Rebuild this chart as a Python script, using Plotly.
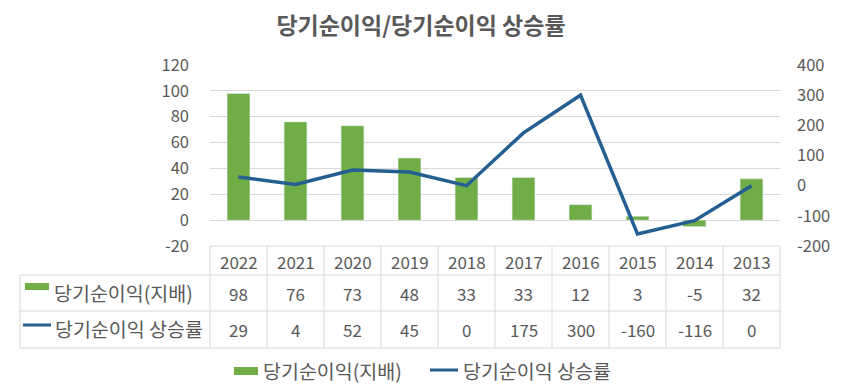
import plotly.graph_objects as go

years = ["2022", "2021", "2020", "2019", "2018", "2017", "2016", "2015", "2014", "2013"]
net_income = [98, 76, 73, 48, 33, 33, 12, 3, -5, 32]
growth_rate = [29, 4, 52, 45, 0, 175, 300, -160, -116, 0]
left_ticks = [-20, 0, 20, 40, 60, 80, 100, 120]
right_ticks = [-200, -100, 0, 100, 200, 300, 400]
name_bar = "당기순이익(지배)"
name_line = "당기순이익 상승률"
title_text = "당기순이익/당기순이익 상승률"

# page body has an 8px default margin; figure sized to fit the 841x390 window
OFF = 8
W, H = 841 - OFF, 390 - OFF
def X(px): return (px - OFF) / W
def Y(py): return 1 - (py - OFF) / H

FONT = "Noto Sans CJK KR"
GREY = "#595959"
GRID = "#d9d9d9"
GREEN = "#70ad47"
BLUE = "#255e91"

PL, PR, PT, PB = 210, 780, 65, 246

fig = go.Figure()
fig.add_trace(go.Bar(x=years, y=net_income, name=name_bar, marker_color=GREEN,
                     yaxis="y", showlegend=False))
fig.add_trace(go.Scatter(x=years, y=growth_rate, name=name_line, mode="lines",
                         line=dict(color=BLUE, width=3.5), yaxis="y2", showlegend=False))

shapes = []
ann = []
ncol = len(years)
cw = (PR - PL) / ncol
rows_y = [246, 275, 311, 348]
for i in range(ncol + 1):
    xx = PL + i * cw
    shapes.append(dict(type="line", xref="paper", yref="paper", x0=X(xx), x1=X(xx),
                       y0=Y(246), y1=Y(348), line=dict(color=GRID, width=1)))
shapes.append(dict(type="line", xref="paper", yref="paper", x0=X(20), x1=X(20),
                   y0=Y(275), y1=Y(348), line=dict(color=GRID, width=1)))
for k, ry in enumerate(rows_y):
    x0 = PL if k == 0 else 20
    shapes.append(dict(type="line", xref="paper", yref="paper", x0=X(x0), x1=X(PR),
                       y0=Y(ry), y1=Y(ry), line=dict(color=GRID, width=1)))

def txt(x, y, t, xref="x", xanchor="center", size=17):
    return dict(x=x, xref=xref, y=y, yref="paper", text=t, showarrow=False,
                xanchor=xanchor, yanchor="middle",
                font=dict(size=size, color=GREY, family=FONT))

# table cells: x given as category index on the x axis
for i, (yr, v, g) in enumerate(zip(years, net_income, growth_rate)):
    ann.append(txt(i, Y(261), yr))
    ann.append(txt(i, Y(293), str(v)))
    ann.append(txt(i, Y(329), str(g)))

LBL = 19.5
shapes.append(dict(type="rect", xref="paper", yref="paper", x0=X(25), x1=X(49),
                   y0=Y(290), y1=Y(283), fillcolor=GREEN, line=dict(width=0)))
ann.append(txt(X(52), Y(292), name_bar, xref="paper", xanchor="left", size=LBL))
shapes.append(dict(type="line", xref="paper", yref="paper", x0=X(23), x1=X(51),
                   y0=Y(325), y1=Y(325), line=dict(color=BLUE, width=3)))
ann.append(txt(X(53), Y(328), name_line, xref="paper", xanchor="left", size=LBL))

shapes.append(dict(type="rect", xref="paper", yref="paper", x0=X(234), x1=X(258),
                   y0=Y(375), y1=Y(367), fillcolor=GREEN, line=dict(width=0)))
ann.append(txt(X(261), Y(370), name_bar, xref="paper", xanchor="left", size=LBL))
shapes.append(dict(type="line", xref="paper", yref="paper", x0=X(430), x1=X(458),
                   y0=Y(370), y1=Y(370), line=dict(color=BLUE, width=3)))
ann.append(txt(X(461), Y(370), name_line, xref="paper", xanchor="left", size=LBL))

fig.update_layout(
    width=W, height=H,
    margin=dict(l=0, r=0, t=0, b=0, autoexpand=False),
    paper_bgcolor="white", plot_bgcolor="white",
    title=dict(text="<b>" + title_text + "</b>", x=X(421), xanchor="center",
               y=Y(26), yanchor="middle", xref="paper", yref="paper",
               font=dict(size=23, color=GREY, family=FONT)),
    bargap=0.6,
    xaxis=dict(type="category", domain=[X(PL), X(PR)], range=[-0.5, ncol - 0.5],
               showticklabels=False, showgrid=False,
               zeroline=False, showline=False, ticks="", automargin=False),
    yaxis=dict(domain=[Y(PB), Y(PT)], range=[-20, 120],
               tickvals=left_ticks, ticktext=[str(v) for v in left_ticks],
               showgrid=True, gridcolor=GRID, gridwidth=1, zeroline=False,
               ticks="", ticklabelstandoff=20, automargin=False,
               tickfont=dict(size=16.5, color=GREY, family=FONT)),
    yaxis2=dict(domain=[Y(PB), Y(PT)], range=[-200, 400],
                tickvals=right_ticks, ticktext=[str(v) for v in right_ticks],
                overlaying="y", side="right", showgrid=False, zeroline=False,
                ticks="", ticklabelstandoff=16, automargin=False,
                tickfont=dict(size=16.5, color=GREY, family=FONT)),
    shapes=shapes,
    annotations=ann,
)

fig.write_html("out.html")
